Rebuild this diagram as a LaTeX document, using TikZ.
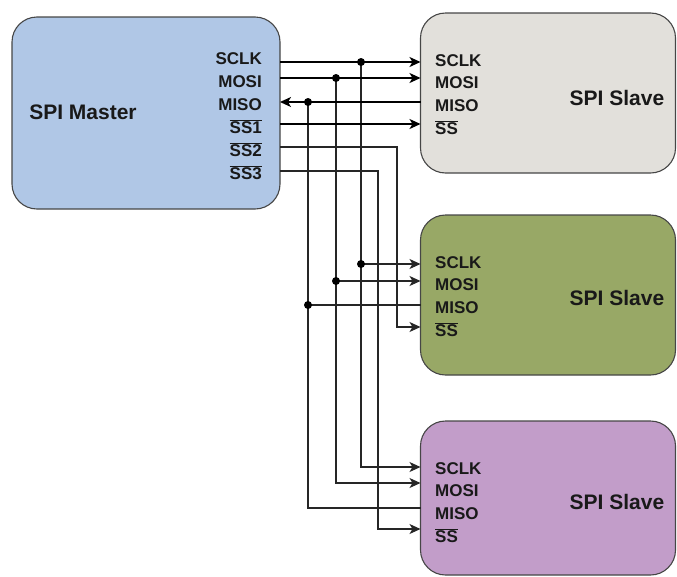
\documentclass[tikz,border=0pt]{standalone}
\usepackage{fontspec}
\setmainfont{Liberation Sans}
\usetikzlibrary{arrows.meta}
\definecolor{mfill}{RGB}{176,199,230}
\definecolor{s1fill}{RGB}{226,224,219}
\definecolor{s2fill}{RGB}{152,168,102}
\definecolor{s3fill}{RGB}{194,157,201}
\definecolor{edge}{RGB}{70,70,70}
\newcommand{\ovl}[1]{$\overline{\mbox{#1}}$}
\begin{document}
\begin{tikzpicture}[x=1pt,y=-1pt,
  box/.style={draw=edge, line width=1.1pt, rounded corners=25pt, inner sep=0pt},
  lbl/.style={font=\fontsize{17}{18}\selectfont\bfseries, inner sep=0pt, text=black!90},
  ttl/.style={font=\fontsize{21}{22}\selectfont\bfseries, inner sep=0pt, text=black!90},
  bus/.style={line width=1.6pt, draw=black},
  wire/.style={line width=1.2pt, draw=black!85},
  tip/.style={-{Stealth[length=11pt,width=10pt,inset=3pt]}},
  jdot/.style={circle, fill=black, inner sep=0pt, minimum size=8pt},
]
\useasboundingbox (0,0) rectangle (677,576);

% boxes
\node[box, fill=mfill, minimum width=268pt, minimum height=192pt] (master) at (146,113) {};
\node[box, fill=s1fill, minimum width=255pt, minimum height=160pt] (slave1) at (548,93) {};
\node[box, fill=s2fill, minimum width=255pt, minimum height=160pt] (slave2) at (548,295) {};
\node[box, fill=s3fill, minimum width=255pt, minimum height=154pt] (slave3) at (548,498) {};

% titles
\node[ttl] (mtitle) at (83,112) {SPI Master};
\node[ttl] (s1title) at (617,98) {SPI Slave};
\node[ttl] (s2title) at (617,298) {SPI Slave};
\node[ttl] (s3title) at (617,502) {SPI Slave};

% master labels
\node[lbl, anchor=base east] (mlA) at (262,64) {SCLK};
\node[lbl, anchor=base east] (mlB) at (262,87) {MOSI};
\node[lbl, anchor=base east] (mlC) at (262,110) {MISO};
\node[lbl, anchor=base east] (mlD) at (262,133) {\ovl{SS1}};
\node[lbl, anchor=base east] (mlE) at (262,156) {\ovl{SS2}};
\node[lbl, anchor=base east] (mlF) at (262,179) {\ovl{SS3}};

% slave labels
\foreach \s/\t in {1/13, 2/215, 3/421}{
  \node[lbl, anchor=base west] (sl\s A) at (435,\t+53) {SCLK};
  \node[lbl, anchor=base west] (sl\s B) at (435,\t+75.5) {MOSI};
  \node[lbl, anchor=base west] (sl\s C) at (435,\t+98.5) {MISO};
  \node[lbl, anchor=base west] (sl\s D) at (435,\t+121) {\ovl{SS}};
}

% connection points
\coordinate (mA) at (280,62);
\coordinate (mB) at (280,78);
\coordinate (mC) at (280,102);
\coordinate (mD) at (280,124);
\coordinate (mE) at (280,147);
\coordinate (mF) at (280,171);
\coordinate (s1A) at (420.5,62);
\coordinate (s1B) at (420.5,78);
\coordinate (s1C) at (420.5,102);
\coordinate (s1D) at (420.5,124);
\coordinate (s2A) at (420.5,264);
\coordinate (s2B) at (420.5,281);
\coordinate (s2C) at (420.5,305);
\coordinate (s2D) at (420.5,327);
\coordinate (s3A) at (420.5,467);
\coordinate (s3B) at (420.5,483);
\coordinate (s3C) at (420.5,508);
\coordinate (s3D) at (420.5,529);
\coordinate (jA) at (361,62);
\coordinate (jB) at (336,78);
\coordinate (jC) at (308,102);
\coordinate (kA) at (361,264);
\coordinate (kB) at (336,281);
\coordinate (kC) at (308,305);
\coordinate (tE) at (397,147);
\coordinate (tF) at (378,171);

% vertical branches
\draw[wire, tip] (jA) |- (s3A);
\draw[wire, tip] (jB) |- (s3B);
\draw[wire] (jC) |- (s3C);
\draw[wire, tip] (kA) -- (s2A);
\draw[wire, tip] (kB) -- (s2B);
\draw[wire] (kC) -- (s2C);
\draw[wire, tip] (mE) -- (tE) |- (s2D);
\draw[wire, tip] (mF) -- (tF) |- (s3D);

% main bus to slave 1
\draw[bus, tip] (mA) -- (s1A);
\draw[bus, tip] (mB) -- (s1B);
\draw[bus, tip] (s1C) -- (mC);
\draw[bus, tip] (mD) -- (s1D);

% junction dots
\foreach \p in {jA,jB,jC,kA,kB,kC}{
  \node[jdot] (d\p) at (\p) {};
}
\end{tikzpicture}
\end{document}
